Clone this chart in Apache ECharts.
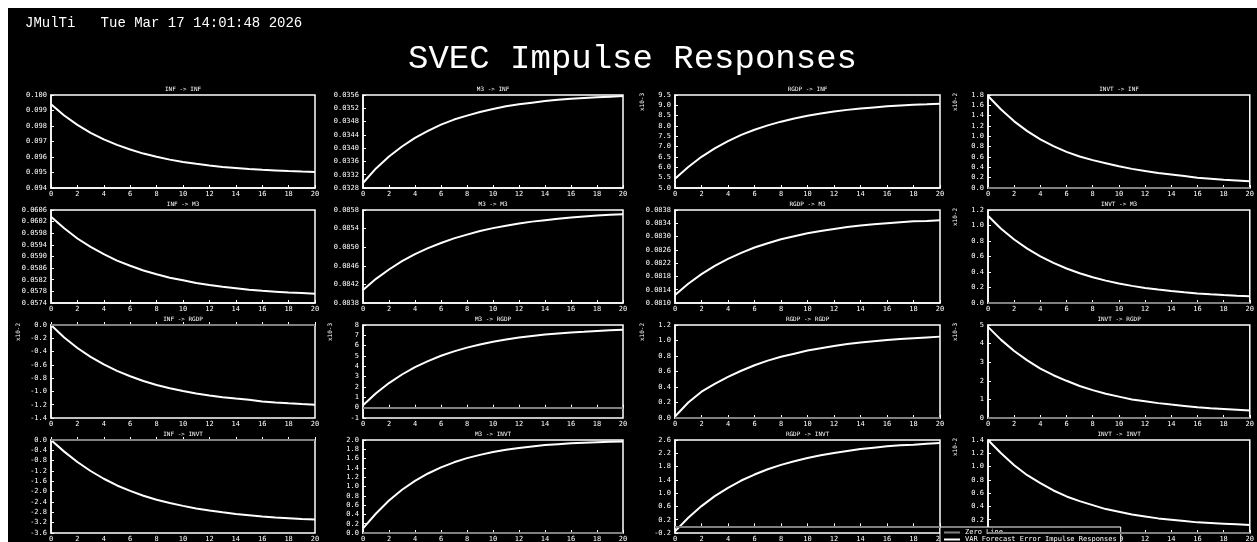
<!DOCTYPE html>
<html>
<head>
<meta charset="utf-8">
<title>SVEC Impulse Responses</title>
<script src="https://cdn.jsdelivr.net/npm/echarts@6/dist/echarts.min.js"></script>
<style>
  html, body { margin: 0; padding: 0; background: #fff; overflow: hidden; }
  #main { position: absolute; left: 8px; top: 8px; width: 1249px; height: 548px; }
</style>
</head>
<body>
<div id="main"></div>
<script type="text/javascript">
// horizon of the impulse responses
var periods = [0, 1, 2, 3, 4, 5, 6, 7, 8, 9, 10, 11, 12, 13, 14, 15, 16, 17, 18, 19, 20];

var panelTitles = [
  'INF -> INF', 'M3 -> INF', 'RGDP -> INF', 'INVT -> INF',
  'INF -> M3', 'M3 -> M3', 'RGDP -> M3', 'INVT -> M3',
  'INF -> RGDP', 'M3 -> RGDP', 'RGDP -> RGDP', 'INVT -> RGDP',
  'INF -> INVT', 'M3 -> INVT', 'RGDP -> INVT', 'INVT -> INVT'
];

// responses (scaled ones are in the units shown on the axis)
var infInf   = [0.09940, 0.09868, 0.09807, 0.09756, 0.09714, 0.09678, 0.09648, 0.09622, 0.09601, 0.09583, 0.09568, 0.09556, 0.09545, 0.09536, 0.09529, 0.09522, 0.09517, 0.09513, 0.09509, 0.09506, 0.09504];
var m3Inf    = [0.03295, 0.03339, 0.03375, 0.03405, 0.03431, 0.03452, 0.03471, 0.03486, 0.03498, 0.03509, 0.03518, 0.03526, 0.03532, 0.03537, 0.03542, 0.03546, 0.03549, 0.03551, 0.03553, 0.03555, 0.03557];
var rgdpInf  = [5.45, 6.02, 6.51, 6.92, 7.27, 7.57, 7.82, 8.03, 8.21, 8.36, 8.50, 8.61, 8.70, 8.78, 8.85, 8.90, 8.95, 8.99, 9.03, 9.05, 9.08];
var invtInf  = [1.78, 1.52, 1.29, 1.10, 0.94, 0.81, 0.70, 0.61, 0.54, 0.48, 0.42, 0.37, 0.33, 0.29, 0.26, 0.23, 0.20, 0.18, 0.16, 0.145, 0.13];
var infM3    = [0.06037, 0.05997, 0.05962, 0.05933, 0.05908, 0.05886, 0.05868, 0.05852, 0.05839, 0.05827, 0.05818, 0.05809, 0.05802, 0.05796, 0.05791, 0.05786, 0.05782, 0.05779, 0.05776, 0.05774, 0.05772];
var m3M3     = [0.08408, 0.08432, 0.08452, 0.08470, 0.08485, 0.08498, 0.08509, 0.08519, 0.08527, 0.08535, 0.08541, 0.08546, 0.08551, 0.08555, 0.08558, 0.08561, 0.08564, 0.08566, 0.08568, 0.08570, 0.08571];
var rgdpM3   = [0.08124, 0.08158, 0.08187, 0.08212, 0.08233, 0.08251, 0.08267, 0.08280, 0.08292, 0.08301, 0.08310, 0.08317, 0.08323, 0.08329, 0.08333, 0.08337, 0.08340, 0.08343, 0.08346, 0.08347, 0.08349];
var invtM3   = [1.125, 0.959, 0.820, 0.701, 0.601, 0.517, 0.445, 0.384, 0.333, 0.289, 0.252, 0.221, 0.195, 0.173, 0.154, 0.138, 0.124, 0.113, 0.103, 0.095, 0.088];
var infRgdp  = [0.0, -0.187, -0.346, -0.480, -0.594, -0.691, -0.772, -0.843, -0.902, -0.951, -0.994, -1.030, -1.060, -1.086, -1.108, -1.127, -1.150, -1.165, -1.178, -1.190, -1.200];
var m3Rgdp   = [0.23, 1.40, 2.38, 3.21, 3.92, 4.51, 5.02, 5.45, 5.81, 6.12, 6.38, 6.60, 6.78, 6.94, 7.07, 7.18, 7.28, 7.35, 7.43, 7.48, 7.53];
var rgdpRgdp = [0.02, 0.20, 0.34, 0.44, 0.53, 0.61, 0.68, 0.74, 0.79, 0.83, 0.87, 0.90, 0.93, 0.955, 0.975, 0.99, 1.005, 1.02, 1.03, 1.04, 1.05];
var invtRgdp = [4.9, 4.2, 3.6, 3.1, 2.65, 2.3, 2.0, 1.72, 1.5, 1.3, 1.15, 1.0, 0.9, 0.8, 0.72, 0.65, 0.58, 0.52, 0.48, 0.44, 0.40];
var infInvt  = [0.0, -0.45, -0.85, -1.2, -1.5, -1.76, -1.97, -2.16, -2.31, -2.44, -2.55, -2.65, -2.73, -2.80, -2.86, -2.91, -2.96, -3.00, -3.03, -3.06, -3.08];
var m3Invt   = [0.1, 0.42, 0.7, 0.93, 1.12, 1.28, 1.41, 1.52, 1.61, 1.68, 1.74, 1.79, 1.83, 1.86, 1.89, 1.91, 1.93, 1.94, 1.95, 1.96, 1.97];
var rgdpInvt = [-0.15, 0.26, 0.61, 0.91, 1.16, 1.38, 1.56, 1.72, 1.85, 1.96, 2.06, 2.14, 2.21, 2.27, 2.33, 2.37, 2.41, 2.44, 2.46, 2.49, 2.51];
var invtInvt = [1.4, 1.2, 1.02, 0.87, 0.75, 0.64, 0.55, 0.48, 0.42, 0.36, 0.32, 0.28, 0.25, 0.22, 0.2, 0.18, 0.16, 0.15, 0.14, 0.13, 0.12];

var responses = [infInf, m3Inf, rgdpInf, invtInf, infM3, m3M3, rgdpM3, invtM3,
                 infRgdp, m3Rgdp, rgdpRgdp, invtRgdp, infInvt, m3Invt, rgdpInvt, invtInvt];

// y axis ticks of every panel
var yMin  = [0.094, 0.0328, 5.0, 0.0,  0.0574, 0.0838, 0.0810, 0.0,  -1.4, -1, 0.0, 0, -3.6, 0.0, -0.2, 0.0];
var yMax  = [0.100, 0.0356, 9.5, 1.8,  0.0606, 0.0858, 0.0838, 1.2,   0.0,  8, 1.2, 5,  0.0, 2.0,  2.6, 1.4];
var yStep = [0.001, 0.0004, 0.5, 0.2,  0.0004, 0.0004, 0.0004, 0.2,   0.2,  1, 0.2, 1,  0.4, 0.2,  0.4, 0.2];
var yDec  = [3, 4, 1, 1,  4, 4, 4, 1,  1, 0, 1, 0,  1, 1, 1, 1];
var yScale = ['', '', '-3', '-2',  '', '', '', '-2',  '-2', '-3', '-2', '-3',  '', '', '', '-2'];

var xTicks = { min: 0, max: 20, step: 2 };

var colLeft = [43, 355, 667, 980];
var colWidth = [264, 260, 265, 262];
var rowTop = [87, 202, 317, 432];
var plotH = 93;

var myChart = echarts.init(document.getElementById('main'));

var mono = 'DejaVu Sans Mono';
var thin = 'Liberation Mono';
var grids = [], xAxes = [], yAxes = [], series = [], graphics = [];

graphics.push({
  type: 'text', left: 17, top: 8,
  style: { text: 'JMulTi   Tue Mar 17 14:01:48 2026', fill: '#fff', font: '14px ' + thin }
});
graphics.push({
  type: 'text', left: 'center', top: 34,
  style: { text: 'SVEC Impulse Responses', fill: '#fff', font: '34px ' + thin }
});

for (var i = 0; i < 16; i++) {
  var r = Math.floor(i / 4), c = i % 4;
  grids.push({
    left: colLeft[c], top: rowTop[r], width: colWidth[c], height: plotH,
    show: true, borderColor: '#fff', borderWidth: 1.5, containLabel: false
  });
  xAxes.push({
    type: 'value', gridIndex: i, min: xTicks.min, max: xTicks.max, interval: xTicks.step,
    axisLine: { show: true, lineStyle: { color: '#fff', width: 1.5 } },
    axisTick: { show: true, inside: true, length: 3, lineStyle: { color: '#fff' } },
    axisLabel: { color: '#fff', fontFamily: mono, fontSize: 7, margin: 3 },
    splitLine: { show: false }
  });
  (function (k) {
    yAxes.push({
      type: 'value', gridIndex: k, min: yMin[k], max: yMax[k], interval: yStep[k],
      axisLine: { show: true, lineStyle: { color: '#fff', width: 1.5 } },
      axisTick: { show: true, inside: true, length: 3, lineStyle: { color: '#fff' } },
      axisLabel: {
        color: '#fff', fontFamily: mono, fontSize: 7, margin: 4,
        formatter: function (v) { return v.toFixed(yDec[k]); }
      },
      splitLine: { show: false }
    });
  })(i);
  var pts = periods.map(function (p, j) { return [p, responses[i][j]]; });
  var s = {
    name: 'VAR Forecast Error Impulse Responses', type: 'line',
    xAxisIndex: i, yAxisIndex: i, data: pts, showSymbol: false, silent: true,
    color: '#fff', lineStyle: { color: '#fff', width: 2 }, z: 3
  };
  if (yMin[i] <= 0 && yMax[i] >= 0) {
    s.markLine = {
      silent: true, symbol: 'none', label: { show: false },
      lineStyle: { color: '#808080', width: 2, type: 'solid' },
      data: [{ yAxis: 0 }]
    };
  }
  series.push(s);
  graphics.push({
    type: 'text', left: colLeft[c] + colWidth[c] / 2 - panelTitles[i].length * 1.8, top: rowTop[r] - 9,
    style: { text: panelTitles[i], fill: '#fff', font: '6px ' + mono }
  });
  if (yScale[i]) {
    graphics.push({
      type: 'text', x: colLeft[c] - 36, y: rowTop[r] + 16, rotation: Math.PI / 2,
      style: { text: 'x10' + yScale[i], fill: '#fff', font: '6px ' + mono }
    });
  }
}

series.push({
  name: 'Zero Line', type: 'line', xAxisIndex: 0, yAxisIndex: 0, data: [],
  color: '#808080', lineStyle: { color: '#808080' }
});

var option = {
  backgroundColor: '#000',
  animation: false,
  grid: grids,
  xAxis: xAxes,
  yAxis: yAxes,
  series: series,
  graphic: graphics,
  legend: {
    left: 932, top: 519, orient: 'vertical',
    data: ['Zero Line', 'VAR Forecast Error Impulse Responses'],
    icon: 'rect', itemWidth: 16, itemHeight: 2, itemGap: 0,
    padding: [2, 4], borderColor: '#fff', borderWidth: 1, backgroundColor: '#000',
    textStyle: { color: '#fff', fontFamily: mono, fontSize: 7, lineHeight: 6 },
    selectedMode: false
  }
};
myChart.setOption(option);
</script>
</body>
</html>
